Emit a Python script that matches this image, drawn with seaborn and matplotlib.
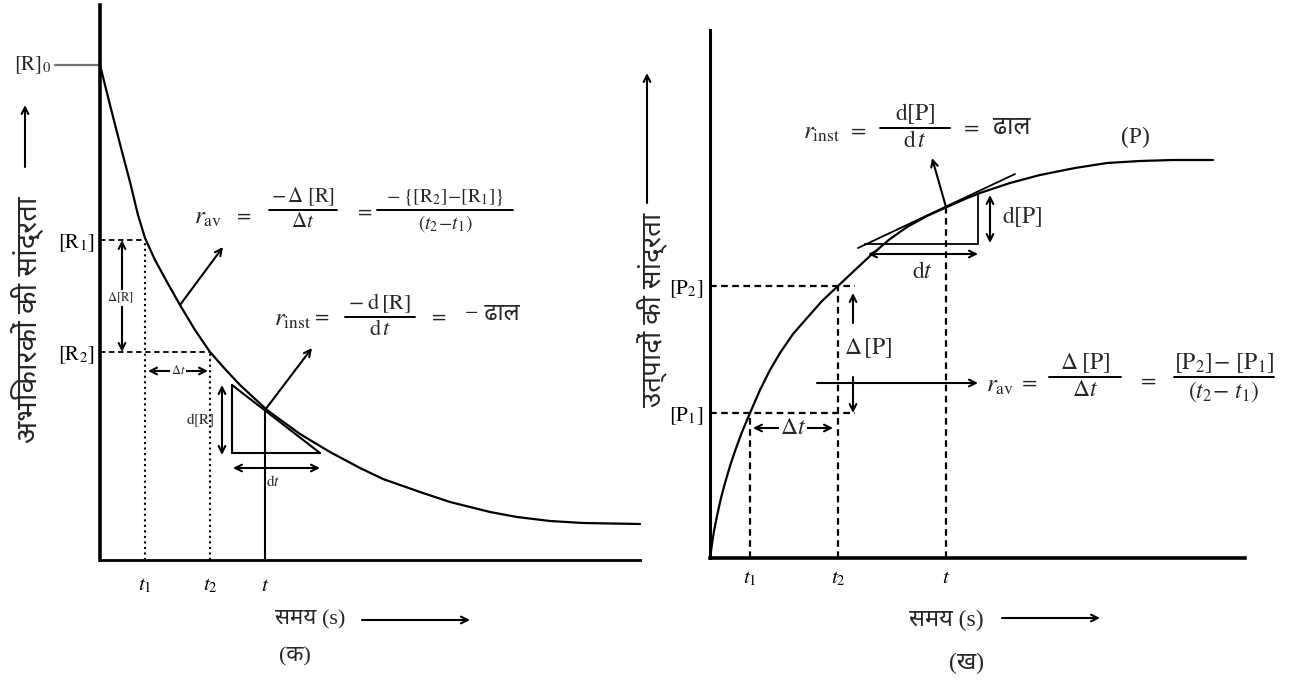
import seaborn as sns
import matplotlib.pyplot as plt
from matplotlib import font_manager
from matplotlib.ft2font import FT2Font

# panel (क): reactant concentration vs time (units: px from the axis origin)
r_time = [0, 10, 20, 30, 38, 45, 55, 67, 80, 95, 110, 125, 140, 167, 200, 230, 260, 283,
          320, 350, 390, 417, 450, 483, 540]
r_conc = [495, 455, 416, 378, 345, 322, 300, 278, 255, 230, 208, 191, 175, 150, 126, 108, 92, 81,
          68, 58, 48, 43, 39, 37, 36]
r_ticks = [45, 110, 165]
r_tick_labels = ['$t_1$', '$t_2$', '$t$']
r_levels = [320, 208]
r_level_labels = [r'$[\mathrm{R}_1]$', r'$[\mathrm{R}_2]$']
r_start = 495
r_at_t = 150
r_tangent_x = [132, 220]
r_tangent_y = [175, 107]

# panel (ख): product concentration vs time
p_time = [0, 2, 4, 7, 11, 15, 20, 25, 32, 40, 50, 60, 70, 83, 97, 112, 128, 145, 160, 180,
          197, 217, 237, 255, 270, 300, 330, 365, 397, 430, 463, 503]
p_conc = [0, 14, 27, 42, 60, 75, 92, 107, 126, 145, 168, 188, 205, 224, 240, 257, 272, 288, 302,
          319, 331, 342, 351, 359, 365, 375, 383, 390, 395, 397, 398, 398]
p_ticks = [40, 128, 236]
p_tick_labels = ['$t_1$', '$t_2$', '$t$']
p_levels = [145, 272]
p_level_labels = [r'$[\mathrm{P}_1]$', r'$[\mathrm{P}_2]$']
p_at_t = 351
p_tangent_x = [148, 305]
p_tangent_y = [310, 384]


def deva_fonts():
    found = []
    for f in font_manager.fontManager.ttflist:
        try:
            if ord('स') in FT2Font(f.fname).get_charmap() and f.name not in found:
                found.append(f.name)
        except Exception:
            pass
    return found


cands = deva_fonts()
prefer = ['Noto Sans Devanagari', 'Hind', 'Mukta', 'Noto Serif Devanagari', 'FreeSans',
          'FreeSerif', 'Annapurna SIL']
deva = next((n for n in prefer if n in cands),
            next((n for n in cands if 'unifont' not in n.lower()), 'DejaVu Sans'))

sns.set_theme(style="white")
plt.rcParams['mathtext.fontset'] = 'stix'
plt.rcParams['font.family'] = ['Liberation Serif', 'DejaVu Sans']
hindi = ['Liberation Serif', deva, 'DejaVu Sans']

fig = plt.figure(figsize=(12.9, 6.84), dpi=100)
axL = fig.add_axes([100 / 1290, 124 / 684, 560 / 1290, 560 / 684])
axR = fig.add_axes([710 / 1290, 126 / 684, 560 / 1290, 558 / 684])

for ax, top, right in [(axL, 555, 540), (axR, 528, 535)]:
    ax.set_xlim(0, 560)
    ax.set_ylim(0, ax.get_position().height * 684)
    sns.despine(ax=ax)
    ax.spines['left'].set_bounds(0, top)
    ax.spines['bottom'].set_bounds(0, right)
    for s in ('left', 'bottom'):
        ax.spines[s].set_color('black')
    ax.tick_params(length=0, labelsize=15, colors='black')
axL.spines['left'].set_linewidth(2.6)
axL.spines['bottom'].set_linewidth(2)
axR.spines['left'].set_linewidth(2.2)
axR.spines['bottom'].set_linewidth(2.6)

arrow = dict(arrowstyle='->', color='black', lw=1.5, shrinkA=0, shrinkB=0)
darrow = dict(arrowstyle='<->', color='black', lw=1.5, shrinkA=0, shrinkB=0)


def frac(ax, x, y, num, den, half, fs):
    ax.plot([x - half, x + half], [y, y], color='black', lw=1.4, clip_on=False)
    ax.text(x, y + 2, num, fontsize=fs, ha='center', va='bottom')
    ax.text(x, y - 3, den, fontsize=fs, ha='center', va='top')


# ---------------- left panel ----------------
ax = axL
sns.lineplot(x=r_time, y=r_conc, ax=ax, color='black', lw=1.6)
ax.set_xticks(r_ticks, r_tick_labels)
ax.tick_params(axis='x', pad=12)
ax.set_yticks(r_levels, r_level_labels)
ax.tick_params(axis='y', pad=4)

ax.plot([-45, 0], [r_start, r_start], color='0.45', lw=1.6, clip_on=False)
ax.text(-67, r_start, r'$[\mathrm{R}]_0$', fontsize=15, ha='center', va='center')

ax.plot([0, r_ticks[0]], [r_levels[0]] * 2, color='black', lw=1.3, ls=(0, (3, 2)))
ax.plot([0, r_ticks[1]], [r_levels[1]] * 2, color='black', lw=1.3, ls=(0, (3, 2)))
ax.plot([r_ticks[0]] * 2, [0, r_levels[0]], color='black', lw=1.5, ls=':')
ax.plot([r_ticks[1]] * 2, [0, r_levels[1]], color='black', lw=1.5, ls=':')
ax.plot([r_ticks[2]] * 2, [0, r_at_t], color='black', lw=1.5)

# tangent triangle
ax.plot(r_tangent_x, r_tangent_y, color='black', lw=1.5)
ax.plot([r_tangent_x[0]] * 2, r_tangent_y, color='black', lw=1.5)
ax.plot(r_tangent_x, [r_tangent_y[1]] * 2, color='black', lw=1.5)

ax.annotate('', xy=(22, r_levels[1]), xytext=(22, r_levels[0]), arrowprops=darrow)
ax.text(20, 262, r'$\Delta[\mathrm{R}]$', fontsize=9, ha='center', va='center',
        bbox=dict(fc='white', ec='none', pad=0.5))
ax.annotate('', xy=(48, 189), xytext=(108, 189), arrowprops=darrow)
ax.text(78, 189, r'$\Delta t$', fontsize=9, ha='center', va='center',
        bbox=dict(fc='white', ec='none', pad=0.5))
ax.annotate('', xy=(122, 105), xytext=(122, 175), arrowprops=darrow)
ax.text(100, 140, r'$\mathrm{d}[\mathrm{R}]$', fontsize=11, ha='center', va='center')
ax.annotate('', xy=(133, 92), xytext=(220, 92), arrowprops=darrow)
ax.text(173, 78, r'$\mathrm{d}t$', fontsize=11, ha='center', va='center')

ax.annotate('', xy=(123, 313), xytext=(80, 255), arrowprops=arrow)
ax.annotate('', xy=(212, 212), xytext=(r_ticks[2], r_at_t), arrowprops=arrow)

ax.text(108, 342, r'$r_{\mathrm{av}}$', fontsize=18, ha='center', va='center')
ax.text(142, 344, r'$=$', fontsize=15, ha='center', va='center')
frac(ax, 203, 350, r'$-\,\Delta\;[\mathrm{R}]$', r'$\Delta t$', 34, 15)
ax.text(263, 348, r'$=$', fontsize=15, ha='center', va='center')
frac(ax, 345, 350, r'$-\;\{[\mathrm{R}_2]\!-\![\mathrm{R}_1]\}$', r'$(t_2\!-\!t_1)$', 68, 14)

ax.text(193, 240, r'$r_{\mathrm{inst}}$', fontsize=18, ha='center', va='center')
ax.text(220, 243, r'$=$', fontsize=15, ha='center', va='center')
frac(ax, 280, 243, r'$-\;\mathrm{d}\,[\mathrm{R}]$', r'$\mathrm{d}\,t$', 35, 16)
ax.text(337, 243, r'$=$', fontsize=15, ha='center', va='center')
ax.text(392, 246, '− ढाल', fontsize=17, ha='center', va='center', family=hindi)

ax.annotate('', xy=(-75, 455), xytext=(-75, 393), arrowprops=arrow, annotation_clip=False)
ax.text(-73, 240, 'अभिकारकों की सांद्रता', rotation=90, fontsize=21, ha='center', va='center',
        family=hindi)
ax.text(210, -60, 'समय (s)', fontsize=16, ha='center', va='center', family=hindi)
ax.annotate('', xy=(370, -60), xytext=(262, -60), arrowprops=arrow, annotation_clip=False)
ax.text(195, -97, '(क)', fontsize=16, ha='center', va='center', family=hindi)

# ---------------- right panel ----------------
ax = axR
sns.lineplot(x=p_time, y=p_conc, ax=ax, color='black', lw=1.6)
ax.set_xticks(p_ticks, p_tick_labels)
ax.tick_params(axis='x', pad=8)
ax.set_yticks(p_levels, p_level_labels)
ax.tick_params(axis='y', pad=5)

for t, c in zip(p_ticks[:2], p_levels):
    ax.plot([0, 145], [c, c], color='black', lw=1.6, ls=(0, (3, 2)))
    ax.plot([t, t], [0, c], color='black', lw=1.6, ls=(0, (3, 2)))
ax.plot([p_ticks[2]] * 2, [0, p_at_t], color='black', lw=1.6, ls=(0, (3, 2)))

ax.plot(p_tangent_x, p_tangent_y, color='black', lw=1.3)
ax.plot([268, 268], [314, 363], color='black', lw=1.3)
ax.plot([155, 268], [314, 314], color='black', lw=1.3)

ax.annotate('', xy=(143, 265), xytext=(143, 235), arrowprops=arrow)
ax.annotate('', xy=(143, 145), xytext=(143, 181), arrowprops=arrow)
ax.text(158, 210, r'$\Delta\,[\mathrm{P}]$', fontsize=17, ha='center', va='center')
ax.annotate('', xy=(268, 175), xytext=(107, 175), arrowprops=arrow)
ax.annotate('', xy=(43, 130), xytext=(123, 130), arrowprops=darrow)
ax.text(83, 130, r'$\Delta t$', fontsize=17, ha='center', va='center',
        bbox=dict(fc='white', ec='none', pad=0.5))
ax.annotate('', xy=(158, 304), xytext=(268, 304), arrowprops=darrow)
ax.text(212, 285, r'$\mathrm{d}t$', fontsize=17, ha='center', va='center')
ax.annotate('', xy=(280, 315), xytext=(280, 363), arrowprops=darrow)
ax.text(312, 341, r'$\mathrm{d}[\mathrm{P}]$', fontsize=17, ha='center', va='center')
ax.annotate('', xy=(222, 400), xytext=(p_ticks[2], p_at_t), arrowprops=arrow)

ax.text(112, 425, r'$r_{\mathrm{inst}}$', fontsize=18, ha='center', va='center')
ax.text(147, 427, r'$=$', fontsize=16, ha='center', va='center')
frac(ax, 205, 430, r'$\mathrm{d}[\mathrm{P}]$', r'$\mathrm{d}\,t$', 35, 17)
ax.text(260, 430, r'$=$', fontsize=16, ha='center', va='center')
ax.text(302, 430, 'ढाल', fontsize=18, ha='center', va='center', family=hindi)
ax.text(425, 421, '(P)', fontsize=17, ha='center', va='center')

ax.text(290, 172, r'$r_{\mathrm{av}}$', fontsize=18, ha='center', va='center')
ax.text(318, 175, r'$=$', fontsize=16, ha='center', va='center')
frac(ax, 375, 181, r'$\Delta\;[\mathrm{P}]$', r'$\Delta t$', 36, 17)
ax.text(437, 177, r'$=$', fontsize=16, ha='center', va='center')
frac(ax, 514, 181, r'$[\mathrm{P}_2]\!-\,[\mathrm{P}_1]$', r'$(t_2\!-\,t_1)$', 50, 17)

ax.annotate('', xy=(-63, 485), xytext=(-63, 355), arrowprops=arrow, annotation_clip=False)
ax.text(-58, 248, 'उत्पादों की सांद्रता', rotation=90, fontsize=20, ha='center', va='center',
        family=hindi)
ax.text(236, -62, 'समय (s)', fontsize=17, ha='center', va='center', family=hindi)
ax.annotate('', xy=(390, -60), xytext=(292, -60), arrowprops=arrow, annotation_clip=False)
ax.text(257, -105, '(ख)', fontsize=17, ha='center', va='center', family=hindi)

fig.savefig('out.png', dpi=100, facecolor='white')
